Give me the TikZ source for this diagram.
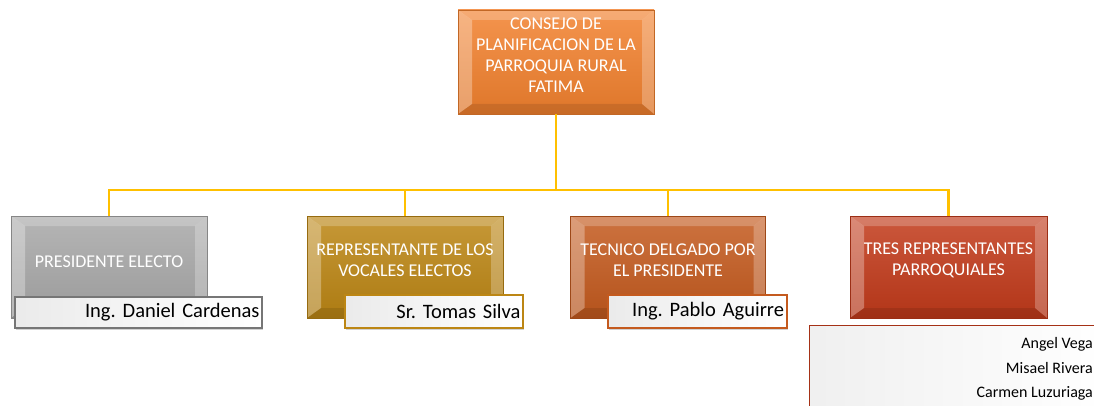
\documentclass[tikz,border=0pt]{standalone}
\usepackage{fontspec}
\setmainfont{Carlito}
\usetikzlibrary{shadows}
\definecolor{topc}{HTML}{F2812E}
\definecolor{grayc}{HTML}{A8A8A8}
\definecolor{goldc}{HTML}{BC8614}
\definecolor{rustc}{HTML}{C45A1E}
\definecolor{redc}{HTML}{C23A1A}
\definecolor{connc}{HTML}{FFC000}
\tikzset{
  bevelbox/.style={draw=#1!80!black, line width=0.8pt, top color=#1!85!white, bottom color=#1!92!black, inner sep=0pt,
    path picture={
      \fill[white,opacity=.22] (path picture bounding box.north west) -- (path picture bounding box.north east) -- ([xshift=-12pt,yshift=-10pt]path picture bounding box.north east) -- ([xshift=14pt,yshift=-10pt]path picture bounding box.north west) -- cycle;
      \fill[white,opacity=.30] (path picture bounding box.north west) -- ([xshift=14pt,yshift=-10pt]path picture bounding box.north west) -- ([xshift=14pt,yshift=10pt]path picture bounding box.south west) -- (path picture bounding box.south west) -- cycle;
      \fill[white,opacity=.25] (path picture bounding box.north east) -- ([xshift=-12pt,yshift=-10pt]path picture bounding box.north east) -- ([xshift=-12pt,yshift=10pt]path picture bounding box.south east) -- (path picture bounding box.south east) -- cycle;
      \fill[black,opacity=.10] (path picture bounding box.south west) -- ([xshift=14pt,yshift=10pt]path picture bounding box.south west) -- ([xshift=-12pt,yshift=10pt]path picture bounding box.south east) -- (path picture bounding box.south east) -- cycle;
    }},
  boxtext/.style={text=white, font=\fontsize{18}{21}\selectfont, align=center, inner sep=0pt},
  namebox/.style={draw=#1, line width=1.2pt, left color=black!8, right color=white,
    font=\fontsize{20.5}{22}\selectfont\frenchspacing, text=black, align=right, inner sep=0pt,
    drop shadow={shadow xshift=1pt, shadow yshift=-1.5pt, opacity=.35}},
  conn/.style={draw=connc, line width=2.6pt},
  listtext/.style={font=\fontsize{16}{18}\selectfont, text=black, anchor=east, inner sep=0pt}
}
\begin{document}
\begin{tikzpicture}[x=1pt,y=-1pt]
\useasboundingbox (0,0) rectangle (1094,406);
\clip (0,0) rectangle (1094,406);
\fill[white] (0,0) rectangle (1094,406);
\coordinate (bus) at (556,190);
\node[bevelbox=topc, minimum width=196pt, minimum height=104pt] (top) at (556,62) {};
\node[bevelbox=grayc, minimum width=196pt, minimum height=102pt] (p1) at (109,267) {};
\node[bevelbox=goldc, minimum width=196pt, minimum height=102pt] (p2) at (405,267) {};
\node[bevelbox=rustc, minimum width=195pt, minimum height=102pt] (p3) at (668,267) {};
\node[bevelbox=redc, minimum width=197pt, minimum height=102pt] (p4) at (948.5,267) {};
\node[boxtext] (t0) at ([yshift=6.5pt]top.center) {CONSEJO DE\\PLANIFICACION DE LA\\PARROQUIA RURAL\\FATIMA};
\node[boxtext] (t1) at ([yshift=5pt]p1.center) {PRESIDENTE ELECTO};
\node[boxtext] (t2) at ([yshift=7pt]p2.center) {REPRESENTANTE DE LOS\\VOCALES ELECTOS};
\node[boxtext] (t3) at ([yshift=7pt]p3.center) {TECNICO DELGADO POR\\EL PRESIDENTE};
\node[boxtext] (t4) at ([yshift=7pt]p4.center) {TRES REPRESENTANTES\\PARROQUIALES};
\draw[conn] (top.south) -- (bus);
\foreach \p in {p1,p2,p3,p4} { \draw[conn] (\p.north) |- (bus); }
\node[namebox=grayc!70!black, minimum width=247pt, minimum height=31pt, text width=242pt] (n1) at (138.5,312.5) {Ing. Daniel Cardenas};
\node[namebox=goldc, minimum width=178pt, minimum height=33pt, text width=173pt] (n2) at (434,311.5) {Sr. Tomas Silva};
\node[namebox=rustc, minimum width=179pt, minimum height=33pt, text width=173pt] (n3) at (697.5,311.5) {Ing. Pablo Aguirre};
\node[draw=redc!85!black, line width=1.2pt, left color=black!6, right color=white, minimum width=300pt, minimum height=100pt, anchor=north west, inner sep=0pt] (list) at (809,325) {};
\node[listtext] (l1) at (1093,344) {Angel Vega};
\node[listtext] (l2) at (1093,368) {Misael Rivera};
\node[listtext] (l3) at (1093,393) {Carmen Luzuriaga};
\end{tikzpicture}
\end{document}
